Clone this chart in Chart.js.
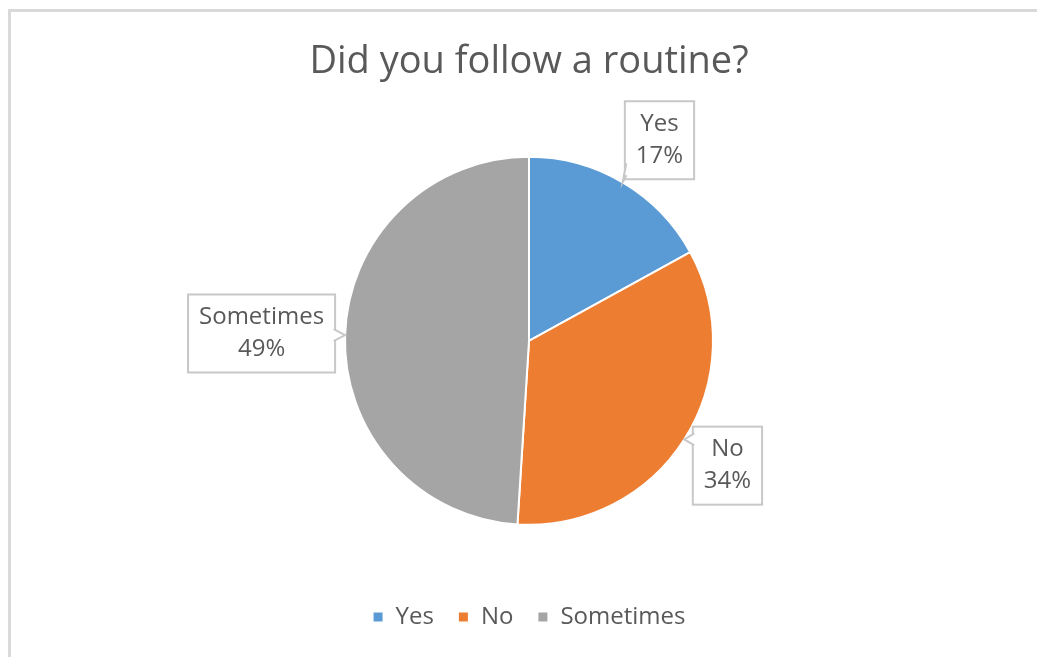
<!DOCTYPE html>
<html>
<head>
<meta charset="utf-8">
<script src="https://cdn.jsdelivr.net/npm/chart.js@4.4.1/dist/chart.umd.min.js"></script>
<style>
    body { margin: 0; background: #fff; overflow: hidden; }
    #moldura { position: absolute; left: 8px; top: 9px; width: 1100px; height: 700px;
               border-top: 3px solid #d9d9d9; border-left: 3px solid #d9d9d9; }
    #area { position: absolute; left: 0; top: 0; width: 1037px; height: 657px; }
</style>
</head>
<body>
<div id="moldura"></div>
<div id="area"><canvas id="graficoPizza"></canvas></div>
<script>
var titulo = "Did you follow a routine?";
var categorias = ["Yes", "No", "Sometimes"];
var valores = [17, 34, 49];
var cores = ["#5B9BD5", "#ED7D31", "#A5A5A5"];

var corTexto = "#595959";
var fonte = '"Open Sans", sans-serif';

// caixinhas de rotulo estilo "callout" do Excel
var rotulos = {
    id: 'rotulos',
    afterDatasetsDraw: function (chart) {
        var ctx = chart.ctx;
        var meta = chart.getDatasetMeta(0);
        var total = 0;
        for (var i = 0; i < valores.length; i++) {
            total += valores[i];
        }

        ctx.save();
        ctx.font = '24px ' + fonte;
        meta.data.forEach(function (arco, i) {
            var p = arco.getProps(['x', 'y', 'startAngle', 'endAngle', 'outerRadius'], true);
            var meio = (p.startAngle + p.endAngle) / 2;
            var dx = Math.cos(meio), dy = Math.sin(meio);

            var linhas = [categorias[i], Math.round(valores[i] / total * 100) + '%'];
            var larg = Math.max(ctx.measureText(linhas[0]).width, ctx.measureText(linhas[1]).width) + 22;
            var alt = 78;

            var ax = p.x + (p.outerRadius + 10) * dx;
            var ay = p.y + (p.outerRadius + 10) * dy;
            var fx = Math.sign(dx) * Math.min(1, Math.abs(dx) * 1.8);
            var cx = ax + fx * larg / 2;
            var cy = ay + dy * alt / 2;
            var esq = cx - larg / 2, dir = cx + larg / 2;
            var topo = cy - alt / 2, base = cy + alt / 2;

            // ponta na borda da fatia
            var px = p.x + p.outerRadius * dx;
            var py = p.y + p.outerRadius * dy;

            ctx.fillStyle = '#fff';
            ctx.strokeStyle = '#c8c8c8';
            ctx.lineWidth = 2;
            ctx.fillRect(esq, topo, larg, alt);
            ctx.strokeRect(esq, topo, larg, alt);

            var b1, b2;
            if (px < esq || px > dir) {
                var bx = px < esq ? esq : dir;
                var in1 = px < esq ? 1.5 : -1.5;
                var wy = Math.min(Math.max(py, topo + 10), base - 10);
                b1 = [bx + in1, wy - 6];
                b2 = [bx + in1, wy + 6];
            } else {
                var by = py < topo ? topo : base;
                var in2 = py < topo ? 1.5 : -1.5;
                var wx = Math.min(Math.max(px, esq + 10), dir - 10);
                b1 = [wx - 6, by + in2];
                b2 = [wx + 6, by + in2];
            }
            ctx.beginPath();
            ctx.moveTo(b1[0], b1[1]);
            ctx.lineTo(px, py);
            ctx.lineTo(b2[0], b2[1]);
            ctx.closePath();
            ctx.fill();
            ctx.beginPath();
            ctx.moveTo(b1[0], b1[1]);
            ctx.lineTo(px, py);
            ctx.lineTo(b2[0], b2[1]);
            ctx.stroke();

            ctx.fillStyle = corTexto;
            ctx.textAlign = 'center';
            ctx.textBaseline = 'middle';
            ctx.fillText(linhas[0], cx, cy - 16);
            ctx.fillText(linhas[1], cx, cy + 16);
        });
        ctx.restore();
    }
};

new Chart(document.getElementById("graficoPizza"), {
    type: 'pie',
    data: {
        labels: categorias,
        datasets: [{
            data: valores,
            backgroundColor: cores,
            borderColor: '#ffffff',
            borderWidth: 2,
            radius: 184
        }]
    },
    options: {
        responsive: true,
        maintainAspectRatio: false,
        animation: false,
        events: [],
        layout: {
            padding: { left: 21, top: 0, right: 0, bottom: 18 }
        },
        plugins: {
            title: {
                display: true,
                text: titulo,
                color: corTexto,
                font: { family: fonte, size: 38, weight: 'normal' },
                padding: { top: 39, bottom: 16 }
            },
            legend: {
                position: 'bottom',
                labels: {
                    color: corTexto,
                    font: { family: fonte, size: 24 },
                    boxWidth: 11,
                    boxHeight: 11,
                    padding: 24
                }
            },
            tooltip: { enabled: false }
        }
    },
    plugins: [rotulos]
});
</script>
</body>
</html>
